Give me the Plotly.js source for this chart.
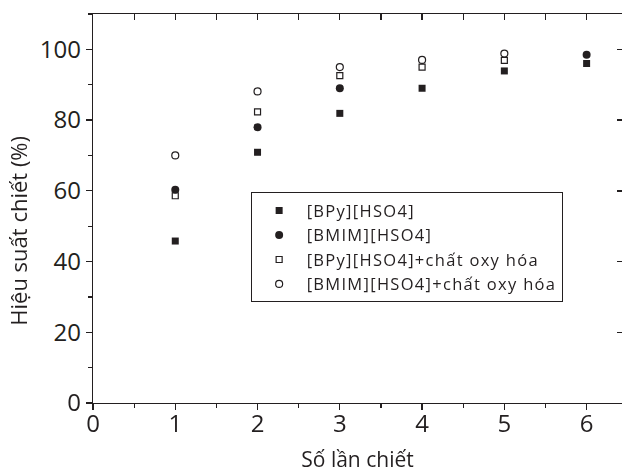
<!DOCTYPE html>
<html>
<head>
<meta charset="utf-8">
<script src="https://cdn.plot.ly/plotly-3.0.1.min.js"></script>
<style>
html,body{margin:0;padding:0;background:#fff;overflow:hidden}
.legendtext{letter-spacing:1.3px}
</style>
</head>
<body>
<div id="chart" style="width:622px;height:473px"></div>
<script>
// Data
const extractions = [1, 2, 3, 4, 5, 6];
const bpy = [45.8, 70.9, 81.9, 89.0, 93.9, 96.0];
const bmim = [60.3, 78.0, 89.0, null, null, 98.5];
const bpyOx = [58.6, 82.3, 92.6, 95.0, 96.9, null];
const bmimOx = [70.0, 88.1, 95.0, 97.0, 98.8, null];
const seriesNames = [
  "[BPy][HSO4]",
  "[BMIM][HSO4]",
  "[BPy][HSO4]+chất oxy hóa",
  "[BMIM][HSO4]+chất oxy hóa"
];
const xTickVals = [0, 1, 2, 3, 4, 5, 6];
const yTickVals = [0, 20, 40, 60, 80, 100];
const xTitle = "Số lần chiết";
const yTitle = "Hiệu suất chiết (%)";

const ink = "#231f20";
const font = "'Open Sans', 'Noto Sans', sans-serif";

const traces = [
  {x: extractions, y: bpy, name: seriesNames[0], mode: "markers", type: "scatter",
   marker: {symbol: "square", size: 7, color: ink, line: {width: 0}}},
  {x: extractions, y: bmim, name: seriesNames[1], mode: "markers", type: "scatter",
   marker: {symbol: "circle", size: 8, color: ink, line: {width: 0}}},
  {x: extractions, y: bpyOx, name: seriesNames[2], mode: "markers", type: "scatter",
   marker: {symbol: "square-open", size: 6, color: ink, line: {width: 1.2}}},
  {x: extractions, y: bmimOx, name: seriesNames[3], mode: "markers", type: "scatter",
   marker: {symbol: "circle-open", size: 7, color: ink, line: {width: 1.2}}},
  // invisible carrier so the top / right frame axes are drawn
  {x: extractions, y: bpy, xaxis: "x2", yaxis: "y2", mode: "markers", type: "scatter",
   showlegend: false, hoverinfo: "skip", opacity: 0, marker: {size: 1, color: "#fff"}}
];

const xr = [0, 6.43];
const yr = [0, 110];

const layout = {
  width: 622, height: 473,
  margin: {l: 93, r: 0, t: 14, b: 70},
  paper_bgcolor: "#fff", plot_bgcolor: "#fff",
  font: {family: font, color: ink, size: 18},
  showlegend: true,
  legend: {
    x: 0.298, y: 0.5415, xanchor: "left", yanchor: "top",
    bgcolor: "#fff", bordercolor: ink, borderwidth: 1,
    font: {family: font, size: 16.5, color: ink},
    itemwidth: 45, tracegroupgap: 0
  },
  xaxis: {
    range: xr, tickvals: xTickVals, ticktext: xTickVals.map(String),
    ticks: "outside", ticklen: 6, tickwidth: 1.2, tickcolor: ink,
    minor: {dtick: 0.5, tick0: 0, ticks: "outside", ticklen: 4, tickwidth: 1.2, tickcolor: ink, showgrid: false},
    showline: true, linecolor: ink, linewidth: 1.2,
    showgrid: false, zeroline: false, ticklabelstandoff: -7,
    tickfont: {family: font, size: 24, color: ink},
    title: {text: xTitle, font: {family: font, size: 21, color: ink}, standoff: 21}
  },
  xaxis2: {
    overlaying: "x", side: "top", anchor: "y2", range: xr,
    tick0: 0, dtick: 0.5, ticks: "inside", ticklen: 6, tickwidth: 1.2, tickcolor: ink,
    showline: true, linecolor: ink, linewidth: 1.2,
    showticklabels: false, showgrid: false, zeroline: false
  },
  yaxis: {
    range: yr, tickvals: yTickVals, ticktext: yTickVals.map(String),
    ticks: "outside", ticklen: 6, tickwidth: 1.2, tickcolor: ink,
    minor: {dtick: 10, tick0: 0, ticks: "outside", ticklen: 4, tickwidth: 1.2, tickcolor: ink, showgrid: false},
    showline: true, linecolor: ink, linewidth: 1.2,
    showgrid: false, zeroline: false,
    tickfont: {family: font, size: 24, color: ink}
  },
  yaxis2: {
    overlaying: "y", side: "right", anchor: "x2", range: yr,
    tick0: 0, dtick: 20, ticks: "inside", ticklen: 5, tickwidth: 1.4, tickcolor: ink,
    showline: false, showticklabels: false, showgrid: false, zeroline: false
  },
  annotations: [{
    text: yTitle, textangle: -90, showarrow: false,
    xref: "paper", yref: "paper", x: -0.142, y: 0.4426,
    xanchor: "center", yanchor: "middle",
    font: {family: font, size: 22, color: ink}
  }]
};

Plotly.newPlot("chart", traces, layout, {displayModeBar: false, staticPlot: true});
</script>
</body>
</html>
